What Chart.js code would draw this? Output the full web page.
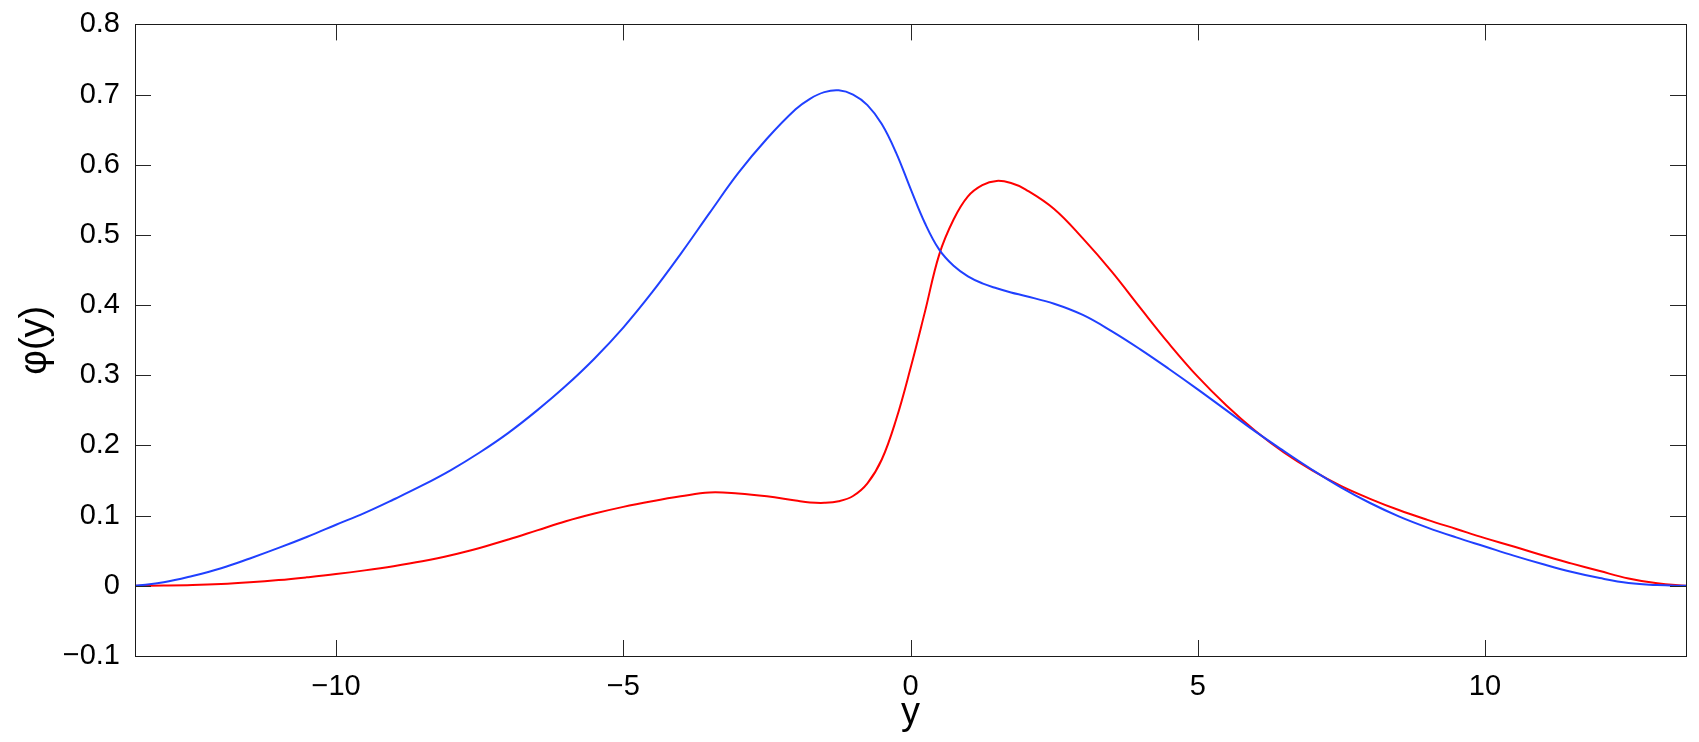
<!DOCTYPE html>
<html>
<head>
<meta charset="utf-8">
<script src="https://cdn.jsdelivr.net/npm/chart.js@4/dist/chart.umd.min.js"></script>
<style>
    body { margin: 0; background: #fff; }
    canvas { display: block; }
</style>
</head>
<body>
<canvas id="chartPhi" width="1699" height="742"></canvas>
<script>
// Valeurs : position y et les deux profils phi(y)
const yPositions = [-13.5, -13, -12.5, -12, -11.5, -11, -10.5, -10, -9.5, -9, -8.5, -8, -7.5, -7, -6.5, -6,
    -5.5, -5, -4.5, -4, -3.5, -3, -2.5, -2, -1.75, -1.5, -1.25, -1, -0.75, -0.5, -0.25, 0, 0.25, 0.5,
    0.75, 1, 1.25, 1.5, 1.75, 2, 2.5, 3, 3.5, 4, 4.5, 5, 5.5, 6, 6.5, 7, 7.5, 8, 8.5, 9, 9.5, 10,
    10.5, 11, 11.5, 12, 12.5, 13, 13.5];

const phiBlue = [0, 0.005, 0.014, 0.025, 0.039, 0.054, 0.07, 0.087, 0.104, 0.123, 0.143, 0.165, 0.19, 0.218, 0.25, 0.285,
    0.324, 0.368, 0.418, 0.473, 0.531, 0.588, 0.637, 0.679, 0.694, 0.7035, 0.706, 0.7, 0.685, 0.658, 0.617, 0.566, 0.517, 0.479,
    0.456, 0.441, 0.431, 0.424, 0.418, 0.413, 0.402, 0.386, 0.363, 0.337, 0.309, 0.28, 0.25, 0.22, 0.192, 0.165, 0.14, 0.118, 0.099, 0.083, 0.069, 0.056,
    0.043, 0.031, 0.02, 0.011, 0.004, 0.001, 0];

const phiRed = [0, 0.0003, 0.001, 0.0025, 0.005, 0.0082, 0.0122, 0.0167, 0.022, 0.028, 0.035, 0.0435, 0.054, 0.066, 0.079, 0.092,
    0.103, 0.1125, 0.1205, 0.1275, 0.133, 0.1315, 0.1275, 0.1215, 0.1188, 0.1182, 0.1205, 0.128, 0.146, 0.18, 0.237, 0.31, 0.39, 0.472,
    0.522, 0.555, 0.571, 0.577, 0.574, 0.565, 0.537, 0.495, 0.448, 0.396, 0.345, 0.298, 0.257, 0.221, 0.19, 0.164, 0.142, 0.124, 0.108, 0.094, 0.081, 0.068,
    0.056, 0.0435, 0.032, 0.021, 0.0105, 0.0035, 0];

const xTicks = [-10, -5, 0, 5, 10];
const yTicks = [-0.1, 0, 0.1, 0.2, 0.3, 0.4, 0.5, 0.6, 0.7, 0.8];

const FONT = 'Liberation Sans, Arial, Helvetica, sans-serif';

function toPoints(values) {
    return yPositions.map((p, i) => ({ x: p, y: values[i] }));
}

// Affiche les nombres négatifs avec un vrai signe moins
function formatTick(value) {
    const v = Math.round(value * 10) / 10;
    return String(v).replace('-', '\u2212');
}

// Cadre autour du graphique + graduations vers l'intérieur sur les quatre côtés
const framePlugin = {
    id: 'frame',
    afterDraw(chart) {
        const ctx = chart.ctx;
        const area = chart.chartArea;
        const xScale = chart.scales.x;
        const yScale = chart.scales.y;
        const len = 16;
        ctx.save();
        ctx.strokeStyle = '#262626';
        ctx.lineWidth = 1;
        ctx.beginPath();
        xScale.ticks.forEach(t => {
            const px = Math.round(xScale.getPixelForValue(t.value)) + 0.5;
            ctx.moveTo(px, area.bottom);
            ctx.lineTo(px, area.bottom - len);
            ctx.moveTo(px, area.top);
            ctx.lineTo(px, area.top + len);
        });
        yScale.ticks.forEach(t => {
            const py = Math.round(yScale.getPixelForValue(t.value)) + 0.5;
            ctx.moveTo(area.left, py);
            ctx.lineTo(area.left + len, py);
            ctx.moveTo(area.right, py);
            ctx.lineTo(area.right - len, py);
        });
        ctx.stroke();
        ctx.strokeStyle = '#1a1a1a';
        ctx.strokeRect(Math.round(area.left) + 0.5, Math.round(area.top) + 0.5,
            Math.round(area.right - area.left), Math.round(area.bottom - area.top));
        ctx.restore();
    }
};

const phiChart = new Chart(
    document.getElementById('chartPhi'), {
        type: 'scatter',
        data: {
            datasets: [{
                data: toPoints(phiBlue),
                borderColor: '#2040ff',
                borderWidth: 2,
                showLine: true,
                pointRadius: 0,
                tension: 0.4
            }, {
                data: toPoints(phiRed),
                borderColor: '#ff0000',
                borderWidth: 2,
                showLine: true,
                pointRadius: 0,
                tension: 0.4
            }]
        },
        options: {
            responsive: false,
            animation: false,
            layout: {
                padding: { top: 23, right: 13, left: 0, bottom: 0 }
            },
            plugins: {
                legend: { display: false },
                tooltip: { enabled: false }
            },
            scales: {
                x: {
                    type: 'linear',
                    min: -13.5,
                    max: 13.5,
                    grid: { display: false },
                    border: { display: false },
                    afterBuildTicks: (scale) => { scale.ticks = xTicks.map(v => ({ value: v })); },
                    afterFit: (scale) => { scale.height = 86; },
                    ticks: {
                        color: '#000',
                        padding: 6,
                        maxRotation: 0,
                        font: { family: FONT, size: 29 },
                        callback: (value) => formatTick(value)
                    },
                    title: {
                        display: true,
                        text: 'y',
                        color: '#000',
                        font: { family: FONT, size: 38, lineHeight: 1 },
                        padding: { top: 0, bottom: 9 }
                    }
                },
                y: {
                    type: 'linear',
                    min: -0.1,
                    max: 0.8,
                    grid: { display: false },
                    border: { display: false },
                    afterBuildTicks: (scale) => { scale.ticks = yTicks.map(v => ({ value: v })); },
                    afterFit: (scale) => { scale.width = 135; },
                    ticks: {
                        color: '#000',
                        padding: 7,
                        font: { family: FONT, size: 29 },
                        callback: (value) => formatTick(value)
                    },
                    title: {
                        display: true,
                        text: '\u03c6(y)',
                        color: '#000',
                        font: { family: FONT, size: 38, lineHeight: 1 },
                        padding: { top: 17, bottom: 0 }
                    }
                }
            }
        },
        plugins: [framePlugin]
    }
);
</script>
</body>
</html>
